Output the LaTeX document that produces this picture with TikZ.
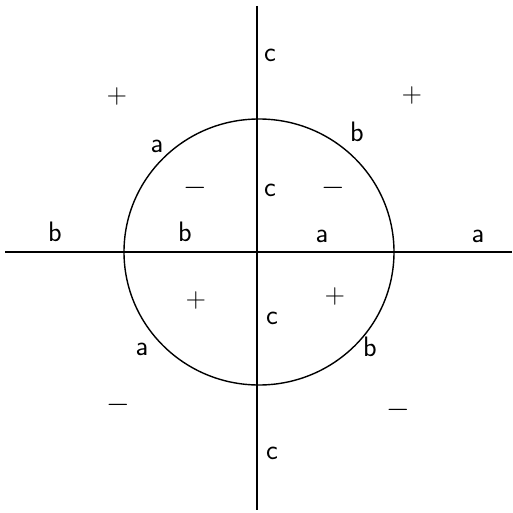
\documentclass[tikz,border=0pt]{standalone}
\usepackage{tikz}
\usetikzlibrary{positioning}

\begin{document}
\begin{tikzpicture}[
    x=0.02cm, y=-0.02cm, line width=0.8pt,
    lbl/.style={font=\sffamily\fontsize{16}{18}\selectfont, inner sep=0pt}
  ]
  \useasboundingbox (0,0) rectangle (512,513);
  % Axes
  \coordinate (west) at (5,252);
  \coordinate (east) at (512,252);
  \coordinate (north) at (257,6);
  \coordinate (south) at (257,510);
  \draw (west) -- (east);
  \draw (north) -- (south);
  % Circle
  \coordinate (o) at (259,252);
  \draw (o) ellipse [x radius=135, y radius=133];
  % Labels on the vertical axis
  \node[lbl] (c1) at (270,55) {c};
  \node[lbl] (c2) at (270,190) {c};
  \node[lbl] (c3) at (272,318) {c};
  \node[lbl] (c4) at (272,453) {c};
  % Labels on the horizontal axis
  \node[lbl] (b1) at (55,232) {b};
  \node[lbl] (b2) at (185,232) {b};
  \node[lbl] (a1) at (322,236) {a};
  \node[lbl] (a2) at (478,236) {a};
  % Labels on the circle
  \node[lbl] (a3) at (157,146) {a};
  \node[lbl] (b3) at (357,132) {b};
  \node[lbl] (a4) at (142,349) {a};
  \node[lbl] (b4) at (370,347) {b};
  % Signs
  \node[lbl] (p1) at (117,96) {+};
  \node[lbl] (p2) at (412,95) {+};
  \node[lbl] (p3) at (196,300) {+};
  \node[lbl] (p4) at (335,296) {+};
  \node[lbl] (m1) at (195,188) {$-$};
  \node[lbl] (m2) at (333,188) {$-$};
  \node[lbl] (m3) at (118,405) {$-$};
  \node[lbl] (m4) at (398,410) {$-$};
\end{tikzpicture}
\end{document}
